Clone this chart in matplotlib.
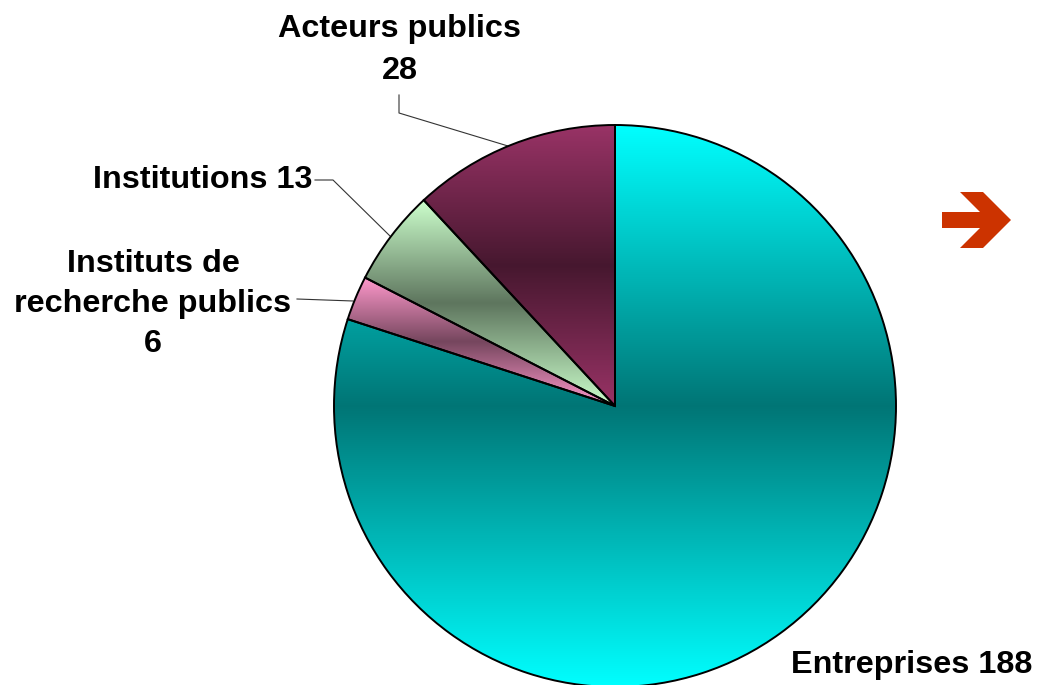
import numpy as np
import matplotlib
matplotlib.use("Agg")
import matplotlib.pyplot as plt
from matplotlib.colors import to_rgb
from matplotlib.patches import Polygon

# --- data ---
labels = ["Acteurs publics", "Institutions", "Instituts de\nrecherche publics", "Entreprises"]
values = [28, 13, 6, 188]
colors = ["#993366", "#CCFFCC", "#FF99CC", "#00FFFF"]
# -------------

W, H = 1037, 685
fig = plt.figure(figsize=(W / 100, H / 100), dpi=100)
ax = fig.add_axes([0, 0, 1, 1])

cx, cy, r = 615, H - 406, 281
wedges, _ = ax.pie(values, colors=colors, startangle=90, counterclock=True,
                   center=(cx, cy), radius=r, frame=True,
                   wedgeprops=dict(edgecolor="black", linewidth=1.4))

# vertical "light - dark - light" gradient over each slice's bounding box
dark = 0.46
for w, c in zip(wedges, colors):
    light = np.array(to_rgb(c))
    bb = w.get_path().get_extents(w.get_patch_transform())
    t = np.abs(np.linspace(-1, 1, 256))[:, None]
    img = (light * dark + (light - light * dark) * t)[:, None, :]
    img = np.repeat(img, 2, axis=1)
    im = ax.imshow(img, extent=(bb.x0, bb.x1, bb.y0, bb.y1), origin="lower",
                   aspect="auto", interpolation="bilinear", zorder=1)
    im.set_clip_path(w)
    w.set_facecolor("none")
    w.set_zorder(3)

ax.set_xlim(0, W)
ax.set_ylim(0, H)
ax.set_aspect("equal")
ax.axis("off")

font = dict(family=["Liberation Sans", "DejaVu Sans"], fontweight="bold",
            fontsize=23.3, color="black")
lc = dict(color="#333333", linewidth=0.8, zorder=2)

# labels and leader lines
ax.text(400, H - 50, f"{labels[0]}\n{values[0]}", ha="center", va="center",
        linespacing=1.55, **font)
ax.plot([399, 399, 508], [H - 95, H - 113, H - 146], **lc)

ax.text(312, H - 180, f"{labels[1]} {values[1]}", ha="right", va="center", **font)
ax.plot([315, 333, 390], [H - 180, H - 180, H - 236], **lc)

ax.text(153, H - 304, f"{labels[2]}\n{values[2]}", ha="center", va="center",
        linespacing=1.45, **font)
ax.plot([297, 353], [H - 299, H - 301], **lc)

ax.text(1032, H - 665, f"{labels[3]} {values[3]}", ha="right", va="center", **font)

# decorative arrow on the right
arrow = Polygon([(942, H - 212), (980, H - 212), (960, H - 192), (983, H - 192),
                 (1011, H - 220), (983, H - 248), (960, H - 248), (980, H - 228),
                 (942, H - 228)], closed=True, facecolor="#CC3300", edgecolor="none")
ax.add_patch(arrow)

fig.savefig("out.png", dpi=100, facecolor="white")
